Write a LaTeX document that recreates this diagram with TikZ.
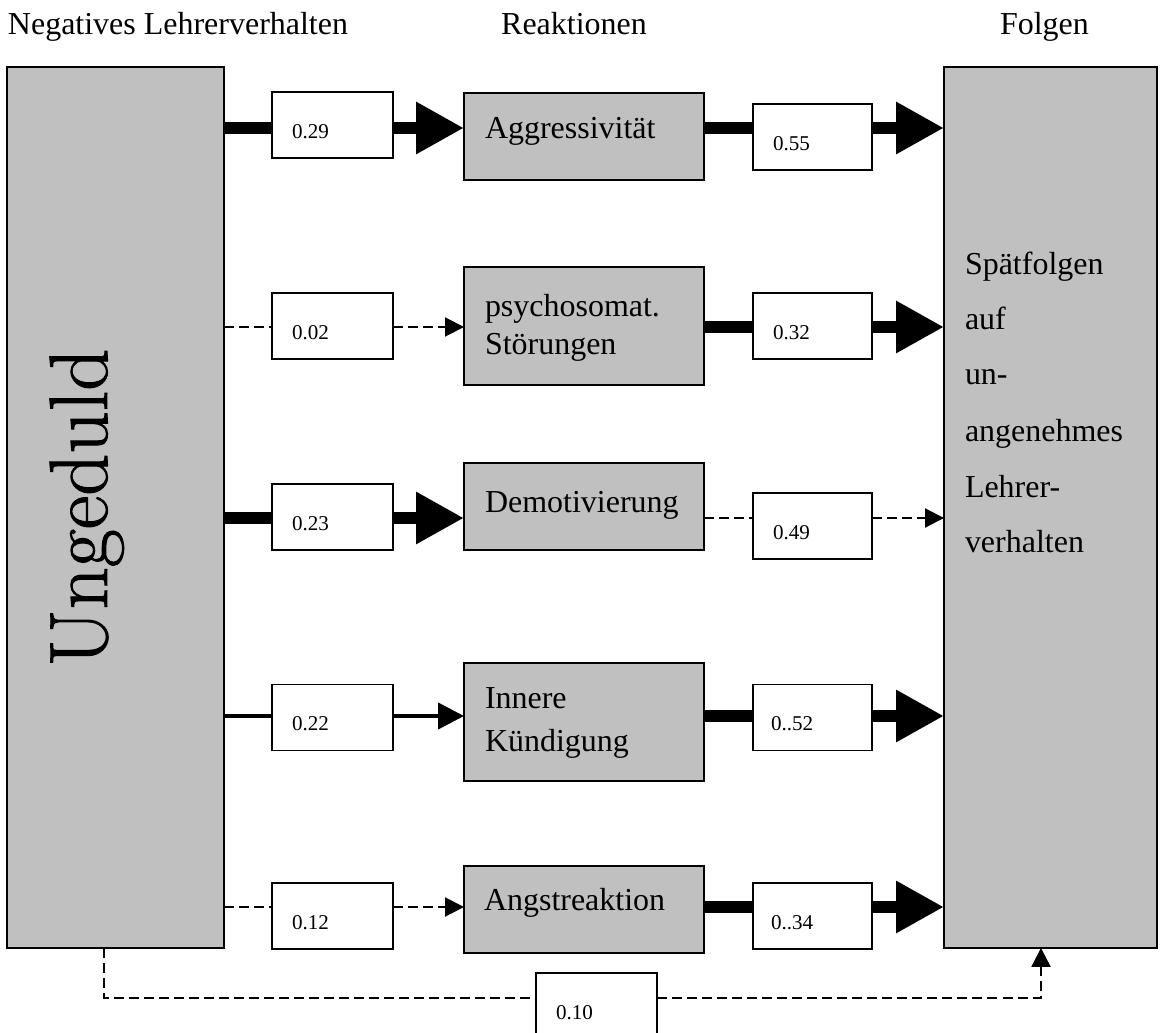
\documentclass[tikz,border=0pt]{standalone}
\usepackage{fontspec}
\setmainfont{Liberation Serif}
\newfontfamily\lmfont[FakeBold=1.2]{Latin Modern Roman}
\usetikzlibrary{arrows.meta}
\definecolor{boxgray}{HTML}{C0C0C0}
\begin{document}
\begin{tikzpicture}[x=0.02cm,y=-0.02cm,
  graybox/.style={draw=black, line width=0.85pt, fill=boxgray, inner sep=0pt, outer sep=0pt},
  valbox/.style={draw=black, line width=0.85pt, fill=white, inner sep=0pt, outer sep=0pt, minimum height=1.32cm},
  maintext/.style={font=\fontsize{18.2}{22}\selectfont, inner sep=0pt, outer sep=0pt, anchor=base west},
  valtext/.style={font=\fontsize{12}{14}\selectfont, inner sep=0pt, outer sep=0pt, anchor=base west},
  strongline/.style={line width=6.8pt},
  strongarrow/.style={strongline, -{Triangle[length=27.3pt,width=27.9pt]}},
  dashline/.style={line width=1.14pt, dash pattern=on 5.7pt off 2.85pt},
  dasharrow/.style={dashline, -{Triangle[length=10.8pt,width=10.8pt]}},
  midline/.style={line width=2.3pt},
  midarrow/.style={midline, -{Triangle[length=14.8pt,width=14.8pt]}}]
\useasboundingbox (0,0) rectangle (1163,1033);
\clip (0,0) rectangle (1163,1033);

% headers
\node[maintext] (h1) at (8,35) {Negatives Lehrerverhalten};
\node[maintext, anchor=base] (h2) at (574,35) {Reaktionen};
\node[maintext] (h3) at (1000,35) {Folgen};

% big boxes
\node[graybox, minimum width=4.34cm, minimum height=17.62cm] (L) at (115.5,507.5) {};
\node[graybox, minimum width=4.26cm, minimum height=17.62cm] (R) at (1050.5,507.5) {};
\node[rotate=90, anchor=base, font=\lmfont\fontsize{47}{54}\selectfont, inner sep=0pt] (ung) at (107,507.5) {Ungeduld};

% middle boxes
\node[graybox, minimum width=4.8cm, minimum height=1.74cm] (M1) at (584,136.5) {};
\node[graybox, minimum width=4.8cm, minimum height=2.36cm] (M2) at (584,326) {};
\node[graybox, minimum width=4.8cm, minimum height=1.74cm] (M3) at (584,506.5) {};
\node[graybox, minimum width=4.8cm, minimum height=2.36cm] (M4) at (584,722) {};
\node[graybox, minimum width=4.8cm, minimum height=1.74cm] (M5) at (584,909.5) {};

\node[maintext] (t1) at (485,139) {Aggressivität};
\node[maintext] (t2a) at (485,317) {psychosomat.};
\node[maintext] (t2b) at (485,355) {Störungen};
\node[maintext] (t3) at (485,513) {Demotivierung};
\node[maintext] (t4a) at (485,708) {Innere};
\node[maintext] (t4b) at (485,751) {Kündigung};
\node[maintext] (t5) at (484,910) {Angstreaktion};

% right box text
\node[maintext] (s1) at (965,275) {Spätfolgen};
\node[maintext] (s2) at (965,330) {auf};
\node[maintext] (s3) at (965,385) {un-};
\node[maintext] (s4) at (965,442) {angenehmes};
\node[maintext] (s5) at (965,498) {Lehrer-};
\node[maintext] (s6) at (965,553) {verhalten};

% value boxes
\node[valbox, minimum width=2.42cm] (A1) at (332.5,125) {};
\node[valbox, minimum width=2.42cm] (A2) at (332.5,326) {};
\node[valbox, minimum width=2.42cm] (A3) at (332.5,517) {};
\node[valbox, minimum width=2.42cm] (A4) at (332.5,717.5) {};
\node[valbox, minimum width=2.42cm] (A5) at (332.5,916) {};
\node[valbox, minimum width=2.38cm] (B1) at (812.5,137) {};
\node[valbox, minimum width=2.38cm] (B2) at (812.5,326) {};
\node[valbox, minimum width=2.38cm] (B3) at (812.5,526) {};
\node[valbox, minimum width=2.38cm] (B4) at (812.5,717.5) {};
\node[valbox, minimum width=2.38cm] (B5) at (812.5,916) {};
\node[valbox, minimum width=2.42cm] (C) at (596.5,1006) {};

\node[valtext] (va1) at ([shift={(20,46)}]A1.north west) {0.29};
\node[valtext] (va2) at ([shift={(20,46)}]A2.north west) {0.02};
\node[valtext] (va3) at ([shift={(20,46)}]A3.north west) {0.23};
\node[valtext] (va4) at ([shift={(20,46)}]A4.north west) {0.22};
\node[valtext] (va5) at ([shift={(20,46)}]A5.north west) {0.12};
\node[valtext] (vb1) at ([shift={(20,46)}]B1.north west) {0.55};
\node[valtext] (vb2) at ([shift={(20,46)}]B2.north west) {0.32};
\node[valtext] (vb3) at ([shift={(20,46)}]B3.north west) {0.49};
\node[valtext] (vb4) at ([shift={(18,46)}]B4.north west) {0..52};
\node[valtext] (vb5) at ([shift={(18,46)}]B5.north west) {0..34};
\node[valtext] (vc) at ([shift={(20,46)}]C.north west) {0.10};

% row levels
\coordinate (r1) at (0,128);
\coordinate (r2) at (0,327);
\coordinate (r3) at (0,518);
\coordinate (r4) at (0,716);
\coordinate (r5) at (0,907);

% row 1
\draw[strongline] (L.east |- r1) -- (A1.west |- r1);
\draw[strongarrow] (A1.east |- r1) -- (M1.west |- r1);
\draw[strongline] (M1.east |- r1) -- (B1.west |- r1);
\draw[strongarrow] (B1.east |- r1) -- (R.west |- r1);
% row 2
\draw[dashline] (L.east |- r2) -- (A2.west |- r2);
\draw[dasharrow] (A2.east |- r2) -- (M2.west |- r2);
\draw[strongline] (M2.east |- r2) -- (B2.west |- r2);
\draw[strongarrow] (B2.east |- r2) -- (R.west |- r2);
% row 3
\draw[strongline] (L.east |- r3) -- (A3.west |- r3);
\draw[strongarrow] (A3.east |- r3) -- (M3.west |- r3);
\draw[dashline] (M3.east |- r3) -- (B3.west |- r3);
\draw[dasharrow] (B3.east |- r3) -- (R.west |- r3);
% row 4
\draw[midline] (L.east |- r4) -- (A4.west |- r4);
\draw[midarrow] (A4.east |- r4) -- (M4.west |- r4);
\draw[strongline] (M4.east |- r4) -- (B4.west |- r4);
\draw[strongarrow] (B4.east |- r4) -- (R.west |- r4);
% row 5
\draw[dashline] (L.east |- r5) -- (A5.west |- r5);
\draw[dasharrow] (A5.east |- r5) -- (M5.west |- r5);
\draw[strongline] (M5.east |- r5) -- (B5.west |- r5);
\draw[strongarrow] (B5.east |- r5) -- (R.west |- r5);

% bottom connection
\coordinate (bl) at (104,998);
\coordinate (br) at (1041,998);
\draw[dashline] (L.south -| bl) -- (bl) -- (C.west |- bl);
\draw[dasharrow] (C.east |- bl) -- (br) -- (R.south -| br);
\end{tikzpicture}
\end{document}
